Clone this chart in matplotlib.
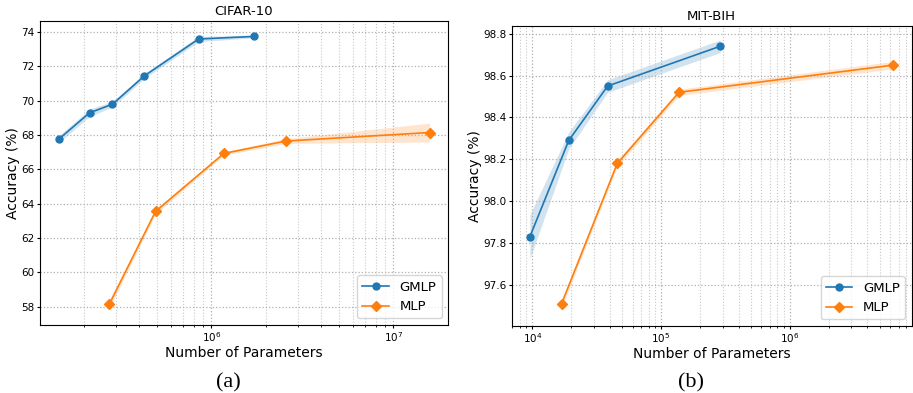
import numpy as np
import matplotlib
matplotlib.use("Agg")
import matplotlib.pyplot as plt

# CIFAR-10
cifar_gmlp_params = [1.445e5, 2.14e5, 2.86e5, 4.28e5, 8.5e5, 1.71e6]
cifar_gmlp_acc = [67.75, 69.3, 69.8, 71.45, 73.6, 73.75]
cifar_gmlp_std = [0.2, 0.22, 0.16, 0.15, 0.15, 0.08]

cifar_mlp_params = [2.75e5, 4.93e5, 1.17e6, 2.56e6, 1.58e7]
cifar_mlp_acc = [58.15, 63.55, 66.93, 67.65, 68.15]
cifar_mlp_std = [0.25, 0.15, 0.1, 0.14, 0.55]

# MIT-BIH
mit_gmlp_params = [9.58e3, 1.92e4, 3.85e4, 2.88e5]
mit_gmlp_acc = [97.83, 98.29, 98.55, 98.74]
mit_gmlp_std = [0.105, 0.04, 0.03, 0.03]

mit_mlp_params = [1.69e4, 4.57e4, 1.38e5, 6.38e6]
mit_mlp_acc = [97.51, 98.18, 98.52, 98.65]
mit_mlp_std = [0.02, 0.015, 0.015, 0.018]

blue = '#1f77b4'
orange = '#ff7f0e'

fig = plt.figure(figsize=(9.13, 3.93), dpi=100)
ax1 = fig.add_axes([0.0438, 0.173, 0.447, 0.774])
ax2 = fig.add_axes([0.5605, 0.1705, 0.438, 0.764])


def draw(ax, gx, gy, gs, mx, my, ms, title, ylim):
    gx, gy, gs = np.array(gx), np.array(gy), np.array(gs)
    mx, my, ms = np.array(mx), np.array(my), np.array(ms)
    ax.plot(gx, gy, color=blue, marker='o', markersize=5, linewidth=1.2, label='GMLP')
    ax.fill_between(gx, gy - gs, gy + gs, color=blue, alpha=0.2, linewidth=0)
    ax.plot(mx, my, color=orange, marker='D', markersize=5, linewidth=1.2, label='MLP')
    ax.fill_between(mx, my - ms, my + ms, color=orange, alpha=0.2, linewidth=0)
    ax.set_xscale('log')
    ax.set_ylim(*ylim)
    ax.grid(True, which='major', linestyle=':', color='#b0b0b0', linewidth=0.9)
    ax.grid(True, which='minor', axis='x', linestyle=':', color='#c8c8c8', linewidth=0.8)
    ax.set_title(title, fontsize=9.5, pad=4)
    ax.set_xlabel('Number of Parameters', fontsize=10, labelpad=1)
    ax.set_ylabel('Accuracy (%)', fontsize=10, labelpad=1)
    ax.tick_params(labelsize=7.5, length=2.5, pad=1.5)
    ax.tick_params(which='minor', length=1.5)
    ax.legend(loc='lower right', fontsize=9.5, handlelength=2.0)


draw(ax1, cifar_gmlp_params, cifar_gmlp_acc, cifar_gmlp_std,
     cifar_mlp_params, cifar_mlp_acc, cifar_mlp_std, 'CIFAR-10', (56.93, 74.66))
draw(ax2, mit_gmlp_params, mit_gmlp_acc, mit_gmlp_std,
     mit_mlp_params, mit_mlp_acc, mit_mlp_std, 'MIT-BIH', (97.403, 98.838))
ax1.set_yticks([58, 60, 62, 64, 66, 68, 70, 72, 74])
ax2.set_yticks([97.6, 97.8, 98.0, 98.2, 98.4, 98.6, 98.8])

fig.text(0.25, 0.026, '(a)', ha='center', va='center', fontsize=16, family='Liberation Serif')
fig.text(0.757, 0.026, '(b)', ha='center', va='center', fontsize=16, family='Liberation Serif')

fig.savefig('out.png', dpi=100)
